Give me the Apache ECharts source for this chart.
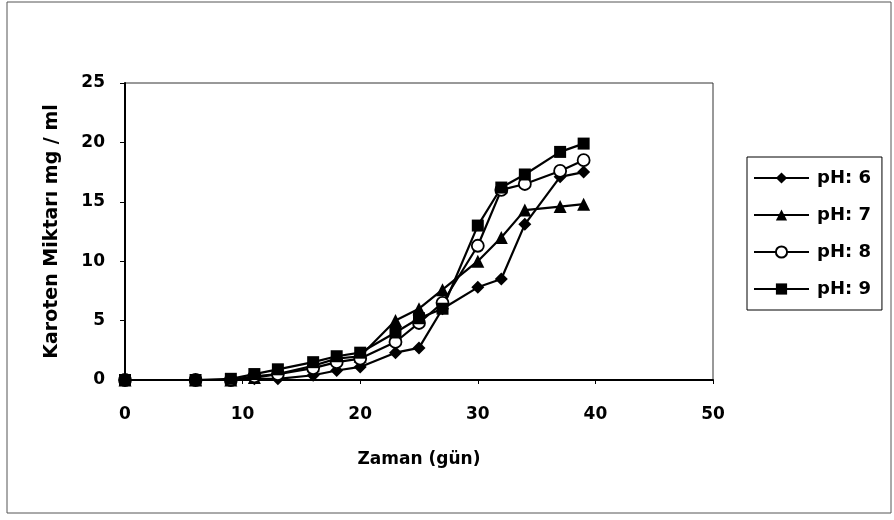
<!DOCTYPE html>
<html><head><meta charset="utf-8">
<script src="https://cdn.jsdelivr.net/npm/echarts@6/dist/echarts.min.js"></script>
<style>html,body{margin:0;padding:0;background:#fff}#c{width:894px;height:520px}</style>
</head><body><div id="c"></div>
<script>
const days = [0, 6, 9, 11, 13, 16, 18, 20, 23, 25, 27, 30, 32, 34, 37, 39];
const ph6 = [0, 0, 0, 0.1, 0.1, 0.4, 0.8, 1.1, 2.3, 2.7, 6.0, 7.8, 8.5, 13.1, 17.1, 17.5];
const ph7 = [0, 0, 0, 0.2, 0.5, 1.2, 1.8, 2.0, 5.0, 6.0, 7.6, 10.0, 12.0, 14.3, 14.6, 14.8];
const ph8 = [0, 0, 0, 0.3, 0.5, 1.0, 1.5, 1.8, 3.2, 4.8, 6.5, 11.3, 16.0, 16.5, 17.6, 18.5];
const ph9 = [0, 0, 0.1, 0.5, 0.9, 1.5, 2.0, 2.3, 4.0, 5.2, 6.0, 13.0, 16.2, 17.3, 19.2, 19.9];
const seriesNames = ['pH: 6', 'pH: 7', 'pH: 8', 'pH: 9'];
const xTicks = [0, 10, 20, 30, 40, 50];
const yTicks = [0, 5, 10, 15, 20, 25];

const font = 'DejaVu Sans, Verdana, sans-serif';
const pair = arr => days.map((d, i) => [d, arr[i]]);
const mk = (name, data, symbol, size, fill) => ({
  name, type: 'line', data: pair(data), symbol, symbolSize: size,
  lineStyle: {color: '#000', width: 2.2},
  itemStyle: {color: fill, borderColor: '#000', borderWidth: fill === '#fff' ? 1.8 : 0},
  emphasis: {disabled: true}, animation: false
});
const chart = echarts.init(document.getElementById('c'), null, {renderer: 'canvas'});
chart.setOption({
  backgroundColor: '#fff',
  animation: false,
  graphic: [{type: 'rect', shape: {x: 7, y: 2, width: 884, height: 511},
    style: {fill: 'none', stroke: '#555', lineWidth: 1}}],
  grid: {left: 125, right: 181, top: 83, bottom: 140, show: true, borderColor: '#333', borderWidth: 1},
  legend: {
    orient: 'vertical', left: 747, top: 157,
    padding: [12, 11, 12, 6], itemGap: 19, itemWidth: 55, itemHeight: 14,
    borderColor: '#000', borderWidth: 1,
    textStyle: {fontFamily: font, fontWeight: 'bold', fontSize: 18, lineHeight: 18, color: '#000', padding: [0, 0, 0, 3]},
    data: seriesNames
  },
  xAxis: {
    type: 'value', min: xTicks[0], max: xTicks[xTicks.length - 1], interval: 10,
    name: 'Zaman (gün)', nameLocation: 'middle', nameGap: 71,
    nameTextStyle: {fontFamily: font, fontWeight: 'bold', fontSize: 17, color: '#000'},
    axisLine: {lineStyle: {color: '#000', width: 2}},
    axisTick: {show: true, length: 4, lineStyle: {color: '#000'}},
    axisLabel: {fontFamily: font, fontWeight: 'bold', fontSize: 17, color: '#000', margin: 26},
    splitLine: {show: false}
  },
  yAxis: {
    type: 'value', min: yTicks[0], max: yTicks[yTicks.length - 1], interval: 5,
    name: 'Karoten Miktarı mg / ml', nameLocation: 'middle', nameGap: 63, nameRotate: 90,
    nameTextStyle: {fontFamily: font, fontWeight: 'bold', fontSize: 19, color: '#000'},
    axisLine: {show: true, lineStyle: {color: '#000', width: 2}},
    axisTick: {show: true, length: 5, lineStyle: {color: '#000'}},
    axisLabel: {fontFamily: font, fontWeight: 'bold', fontSize: 17, color: '#000', margin: 20},
    splitLine: {show: false}
  },
  series: [
    mk(seriesNames[0], ph6, 'diamond', 13, '#000'),
    mk(seriesNames[1], ph7, 'triangle', 13, '#000'),
    mk(seriesNames[2], ph8, 'circle', 12, '#fff'),
    mk(seriesNames[3], ph9, 'rect', 12, '#000')
  ]
});
</script></body></html>
